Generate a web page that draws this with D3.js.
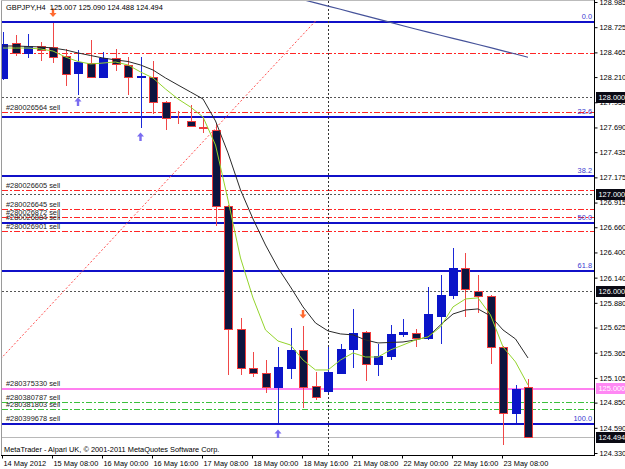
<!DOCTYPE html>
<html>
<head>
<meta charset="utf-8">
<script src="https://cdn.jsdelivr.net/npm/d3@7/dist/d3.min.js"></script>
<style>
body { margin: 0; background: #fff; }
text { font-family: "Liberation Sans", Arial, sans-serif; font-size: 7.4px; }
</style>
</head>
<body>
<div id="chart"></div>
<script>
var symbol = 'GBPJPY';
var period = 'H4';

// H4 bars, weekend skipped
var times = [
  '14 May 16:00', '14 May 20:00',
  '15 May 00:00', '15 May 04:00', '15 May 08:00', '15 May 12:00', '15 May 16:00', '15 May 20:00',
  '16 May 00:00', '16 May 04:00', '16 May 08:00', '16 May 12:00', '16 May 16:00', '16 May 20:00',
  '17 May 00:00', '17 May 04:00', '17 May 08:00', '17 May 12:00', '17 May 16:00', '17 May 20:00',
  '18 May 00:00', '18 May 04:00', '18 May 08:00', '18 May 12:00', '18 May 16:00', '18 May 20:00',
  '21 May 00:00', '21 May 04:00', '21 May 08:00', '21 May 12:00', '21 May 16:00', '21 May 20:00',
  '22 May 00:00', '22 May 04:00', '22 May 08:00', '22 May 12:00', '22 May 16:00', '22 May 20:00',
  '23 May 00:00', '23 May 04:00', '23 May 08:00', '23 May 12:00', '23 May 16:00'
];

var open = [128.201, 128.562, 128.459, 128.531, 128.521, 128.428, 128.252, 128.355, 128.211, 128.407,
  128.335, 128.206, 128.211, 127.953, 127.772, 127.757, 127.695, 127.664, 126.880, 125.610,
  125.208, 125.156, 125.012, 125.208, 125.394, 125.022, 124.971, 125.156, 125.404, 125.580,
  125.249, 125.332, 125.559, 125.569, 125.518, 125.745, 125.961, 126.240, 126.002, 125.951,
  125.425, 124.744, 125.007];
var high = [128.675, 128.644, 128.655, 128.572, 128.768, 128.500, 128.490, 128.593, 128.469, 128.500,
  128.417, 128.417, 128.376, 127.963, 127.860, 127.922, 127.798, 127.736, 126.890, 125.724,
  125.373, 125.290, 125.425, 125.621, 125.641, 125.167, 125.425, 125.456, 125.817, 125.590,
  125.456, 125.652, 125.714, 125.610, 126.044, 126.168, 126.447, 126.395, 126.168, 125.961,
  125.435, 125.032, 125.090];
var low = [128.180, 128.428, 128.407, 128.376, 128.355, 128.118, 128.025, 128.201, 128.201, 128.273,
  128.025, 127.685, 127.829, 127.664, 127.726, 127.695, 127.633, 126.673, 125.136, 125.136,
  125.115, 124.950, 124.640, 125.094, 124.795, 124.878, 124.950, 125.146, 125.208, 125.074,
  125.125, 125.290, 125.528, 125.425, 125.497, 125.456, 125.920, 125.734, 125.776, 125.249,
  124.413, 124.640, 124.488];
var close = [128.552, 128.459, 128.531, 128.490, 128.417, 128.242, 128.366, 128.211, 128.407, 128.345,
  128.211, 128.221, 127.953, 127.788, 127.762, 127.705, 127.685, 126.880, 125.610, 125.208,
  125.156, 125.012, 125.218, 125.394, 125.012, 124.909, 125.167, 125.404, 125.569, 125.249,
  125.332, 125.559, 125.580, 125.518, 125.765, 125.961, 126.240, 126.023, 125.951, 125.425,
  124.744, 124.991, 124.494];

// moving averages
var fastMa = [128.510, 128.510, 128.510, 128.500, 128.479, 128.417, 128.371, 128.345, 128.355, 128.366,
  128.335, 128.263, 128.201, 128.087, 127.984, 127.901, 127.798, 127.509, 126.942, 126.343,
  125.930, 125.600, 125.486, 125.445, 125.290, 125.187, 125.187, 125.290, 125.363, 125.321,
  125.321, 125.394, 125.445, 125.497, 125.528, 125.631, 125.838, 125.920, 125.931, 125.755,
  125.425, 125.270, 125.032];
var slowMa = [128.531, 128.531, 128.526, 128.521, 128.510, 128.490, 128.459, 128.433, 128.407, 128.387,
  128.371, 128.335, 128.283, 128.201, 128.128, 128.056, 127.984, 127.757, 127.427, 127.045,
  126.746, 126.477, 126.240, 126.044, 125.838, 125.672, 125.590, 125.559, 125.549, 125.497,
  125.466, 125.471, 125.476, 125.497, 125.528, 125.652, 125.765, 125.806, 125.817, 125.745,
  125.600, 125.507, 125.311];
var longMaFrom = '18 May 12:00';
var longMa = [129.041, 129.009, 128.976, 128.943, 128.910, 128.876, 128.842, 128.808, 128.774, 128.740,
  128.706, 128.674, 128.642, 128.610, 128.578, 128.546, 128.514, 128.481, 128.448, 128.415];

var priceTicks = [128.985, 128.725, 128.465, 128.210, 127.950, 127.690, 127.435, 127.175, 126.915, 126.660,
  126.400, 126.140, 125.880, 125.625, 125.365, 125.105, 124.850, 124.590, 124.330];
var timeTickBars = ['14 May 16:00', '15 May 08:00', '16 May 00:00', '16 May 16:00', '17 May 08:00',
  '18 May 00:00', '18 May 16:00', '21 May 08:00', '22 May 00:00', '22 May 16:00', '23 May 08:00'];
var timeTickLabels = ['14 May 2012', '15 May 08:00', '16 May 00:00', '16 May 16:00', '17 May 08:00',
  '18 May 00:00', '18 May 16:00', '21 May 08:00', '22 May 00:00', '22 May 16:00', '23 May 08:00'];

// fibo retracement: 0 and 100 prices, anchor bars (offset from first bar)
var fiboLevels = [0.0, 23.6, 38.2, 50.0, 61.8, 100.0];
var fiboHigh = 128.789;
var fiboLow = 124.635;
var fiboAnchorBars = [-5, 25];

var roundLevels = [128.000, 127.000, 126.000];
var separatorBar = '21 May 00:00';

var redOrderIds = ['', '#280026564', '#280026605', '#280026645', '#280026872', '#280026884', '#280026901'];
var redOrderPrices = [128.456, 127.853, 127.045, 126.849, 126.769, 126.715, 126.622];
var pinkOrderIds = ['#280375330'];
var pinkOrderPrices = [125.000];
var greenOrderIds = ['#280380787', '#280381803'];
var greenOrderPrices = [124.857, 124.785];
var blueOrderIds = ['#280399678'];
var blueOrderPrices = [124.635];

var sellArrowBars = ['15 May 08:00', '18 May 16:00'];
var sellArrowPrices = [128.876, 125.765];
var buyArrowBars = ['15 May 16:00', '16 May 12:00', '18 May 08:00'];
var buyArrowPrices = [127.953, 127.592, 124.527];

var width = 625, height = 469;
var plotLeft = 2, plotRight = 594, plotTop = 1, plotBottom = 455;

var svg = d3.select('#chart').append('svg')
  .attr('width', width).attr('height', height)
  .style('display', 'block');

svg.append('rect').attr('width', width).attr('height', height).attr('fill', '#fff');

var x = d3.scaleLinear().domain([0, times.length - 1]).range([3, 528]);
var y = d3.scaleLinear().domain([124.330, 128.985]).range([453, 2]);

function xb(t) { return x(times.indexOf(t)); }
function px(v) { return Math.round(v) + 0.5; }

svg.append('clipPath').attr('id', 'plot')
  .append('rect').attr('x', plotLeft).attr('y', plotTop)
  .attr('width', plotRight - plotLeft).attr('height', plotBottom - plotTop);

var g = svg.append('g').attr('clip-path', 'url(#plot)');

function hline(layer, price, color, w, dash) {
  layer.append('line')
    .attr('x1', plotLeft).attr('x2', plotRight)
    .attr('y1', px(y(price))).attr('y2', px(y(price)))
    .attr('stroke', color).attr('stroke-width', w)
    .attr('stroke-dasharray', dash || null)
    .attr('shape-rendering', 'crispEdges');
}

// round price levels
roundLevels.forEach(function(p) { hline(g, p, '#555', 1, '2,2'); });

// order lines
redOrderPrices.forEach(function(p) { hline(g, p, '#ff2626', 1, '6,2,2,2'); });
greenOrderPrices.forEach(function(p) { hline(g, p, '#3cc03c', 1, '6,2,2,2'); });
blueOrderPrices.forEach(function(p) { hline(g, p, '#10108a', 1); });
pinkOrderPrices.forEach(function(p) { hline(g, p, '#ff80f0', 2); });

// bid line
hline(g, close[close.length - 1], '#b8b8b8', 1);

// fibo levels
var fiboPrice = function(l) { return fiboHigh - l / 100 * (fiboHigh - fiboLow); };
fiboLevels.forEach(function(l) { hline(g, fiboPrice(l), '#1010c8', 2); });

g.append('line')
  .attr('x1', x(fiboAnchorBars[0])).attr('y1', y(fiboLow))
  .attr('x2', x(fiboAnchorBars[1])).attr('y2', y(fiboHigh))
  .attr('stroke', '#ff5050').attr('stroke-width', 1)
  .attr('stroke-dasharray', '2,2');

// week separator
g.append('line')
  .attr('x1', px(xb(separatorBar))).attr('x2', px(xb(separatorBar)))
  .attr('y1', plotTop).attr('y2', plotBottom)
  .attr('stroke', '#333').attr('stroke-width', 1)
  .attr('stroke-dasharray', '2,2')
  .attr('shape-rendering', 'crispEdges');

// order labels
var orderLabels = [];
redOrderIds.forEach(function(id, i) { if (id) orderLabels.push([id, redOrderPrices[i]]); });
pinkOrderIds.forEach(function(id, i) { orderLabels.push([id, pinkOrderPrices[i]]); });
greenOrderIds.forEach(function(id, i) { orderLabels.push([id, greenOrderPrices[i]]); });
blueOrderIds.forEach(function(id, i) { orderLabels.push([id, blueOrderPrices[i]]); });

g.selectAll('text.order')
  .data(orderLabels)
  .enter()
  .append('text')
  .attr('class', 'order')
  .attr('x', 6)
  .attr('y', function(d) { return y(d[1]) - 2; })
  .attr('fill', '#222')
  .text(function(d) { return d[0] + ' sell'; });

// fibo level labels
g.selectAll('text.fibo')
  .data(fiboLevels)
  .enter()
  .append('text')
  .attr('class', 'fibo')
  .attr('x', 592)
  .attr('y', function(d) { return y(fiboPrice(d)) - 2; })
  .attr('text-anchor', 'end')
  .attr('fill', '#3a3ad0')
  .text(function(d) { return d.toFixed(1); });

// candles
var bars = times.map(function(t, i) {
  return { t: t, i: i, o: open[i], h: high[i], l: low[i], c: close[i] };
});

var candle = g.selectAll('g.candle')
  .data(bars)
  .enter()
  .append('g')
  .attr('class', 'candle');

candle.append('line')
  .attr('x1', function(d) { return px(x(d.i)); })
  .attr('x2', function(d) { return px(x(d.i)); })
  .attr('y1', function(d) { return Math.round(y(d.h)); })
  .attr('y2', function(d) { return Math.round(y(d.l)); })
  .attr('stroke', function(d) { return d.c >= d.o ? '#1a28d8' : '#f04848'; })
  .attr('shape-rendering', 'crispEdges');

candle.append('rect')
  .attr('x', function(d) { return Math.round(x(d.i)) - 4 + 0.5; })
  .attr('width', 8)
  .attr('y', function(d) { return Math.round(y(Math.max(d.o, d.c))) + 0.5; })
  .attr('height', function(d) {
    return Math.round(y(Math.min(d.o, d.c))) - Math.round(y(Math.max(d.o, d.c)));
  })
  .attr('fill', function(d) { return d.c >= d.o ? '#0a14c8' : '#0d153f'; })
  .attr('stroke', function(d) { return d.c >= d.o ? '#0a14c8' : '#f03c3c'; })
  .attr('shape-rendering', 'crispEdges');

// moving averages
var maLine = d3.line()
  .x(function(d) { return x(d[0]); })
  .y(function(d) { return y(d[1]); });

g.append('path')
  .datum(slowMa.map(function(v, i) { return [i, v]; }))
  .attr('d', maLine)
  .attr('fill', 'none').attr('stroke', '#2a2a2a').attr('stroke-width', 1);

g.append('path')
  .datum(fastMa.map(function(v, i) { return [i, v]; }))
  .attr('d', maLine)
  .attr('fill', 'none').attr('stroke', '#94d42c').attr('stroke-width', 1);

var longStart = times.indexOf(longMaFrom);
g.append('path')
  .datum(longMa.map(function(v, i) { return [longStart + i, v]; }))
  .attr('d', maLine)
  .attr('fill', 'none').attr('stroke', '#46539a').attr('stroke-width', 1.2);

// trade arrows
var upArrow = 'M0,-4.5 L3.5,-0.5 L1.2,-0.5 L1.2,4 L-1.2,4 L-1.2,-0.5 L-3.5,-0.5 Z';
var downArrow = 'M0,4.5 L3.5,0.5 L1.2,0.5 L1.2,-4 L-1.2,-4 L-1.2,0.5 L-3.5,0.5 Z';

g.selectAll('path.buy')
  .data(buyArrowBars)
  .enter()
  .append('path')
  .attr('class', 'buy')
  .attr('d', upArrow)
  .attr('transform', function(d, i) { return 'translate(' + xb(d) + ',' + y(buyArrowPrices[i]) + ')'; })
  .attr('fill', '#7a6cf0');

g.selectAll('path.sell')
  .data(sellArrowBars)
  .enter()
  .append('path')
  .attr('class', 'sell')
  .attr('d', downArrow)
  .attr('transform', function(d, i) { return 'translate(' + xb(d) + ',' + y(sellArrowPrices[i]) + ')'; })
  .attr('fill', '#ff6a30');

// frame
svg.append('line').attr('x1', 1.5).attr('x2', 1.5).attr('y1', 0).attr('y2', plotBottom)
  .attr('stroke', '#9a9a9a').attr('stroke-width', 1);
svg.append('line').attr('x1', 1).attr('x2', plotRight).attr('y1', 0.5).attr('y2', 0.5)
  .attr('stroke', '#bbb').attr('stroke-width', 1);

// price axis
var yAxis = d3.axisRight(y)
  .tickValues(priceTicks)
  .tickSize(3)
  .tickPadding(2)
  .tickFormat(d3.format('.3f'));

var ya = svg.append('g')
  .attr('transform', 'translate(' + (plotRight + 0.5) + ',0)')
  .call(yAxis);
ya.select('.domain').attr('d', 'M0,0V' + (plotBottom + 1)).attr('stroke', '#000');
ya.selectAll('text').attr('fill', '#000').style('font-size', '7.4px')
  .style('font-family', '"Liberation Sans", Arial, sans-serif');

// time axis
var xAxis = d3.axisBottom(x)
  .tickValues(timeTickBars.map(function(t) { return times.indexOf(t); }))
  .tickSize(3)
  .tickPadding(2)
  .tickFormat(function(d, i) { return timeTickLabels[i]; });

var xa = svg.append('g')
  .attr('transform', 'translate(-1,' + (plotBottom + 0.5) + ')')
  .call(xAxis);
xa.select('.domain').attr('d', 'M2,0H' + (plotRight + 1)).attr('stroke', '#000');
xa.selectAll('text').attr('fill', '#000').attr('text-anchor', 'start').attr('dx', 1)
  .style('font-size', '7.4px')
  .style('font-family', '"Liberation Sans", Arial, sans-serif');

// highlighted price labels
function priceBox(p, bg, fg) {
  var yy = Math.round(y(p));
  svg.append('rect').attr('x', 596).attr('y', yy - 5).attr('width', 29).attr('height', 11)
    .attr('fill', bg);
  svg.append('text').attr('x', 598.5).attr('y', yy + 3)
    .attr('fill', fg).text(p.toFixed(3));
}
roundLevels.forEach(function(p) { priceBox(p, '#0a0a14', '#fff'); });
pinkOrderPrices.forEach(function(p) { priceBox(p, '#ff88f4', '#fff'); });
priceBox(close[close.length - 1], '#0a0a14', '#fff');

// title and footer
var last = open.length - 1;
svg.append('text')
  .attr('x', 6).attr('y', 10)
  .attr('fill', '#000')
  .style('white-space', 'pre')
  .text(symbol + ',' + period + '  ' + open[last].toFixed(3) + ' ' + high[last].toFixed(3) + ' ' +
    low[last].toFixed(3) + ' ' + close[last].toFixed(3));

svg.append('text')
  .attr('x', 4).attr('y', 452)
  .attr('fill', '#000')
  .text('MetaTrader - Alpari UK, \u00a9 2001-2011 MetaQuotes Software Corp.');
</script>
</body>
</html>
